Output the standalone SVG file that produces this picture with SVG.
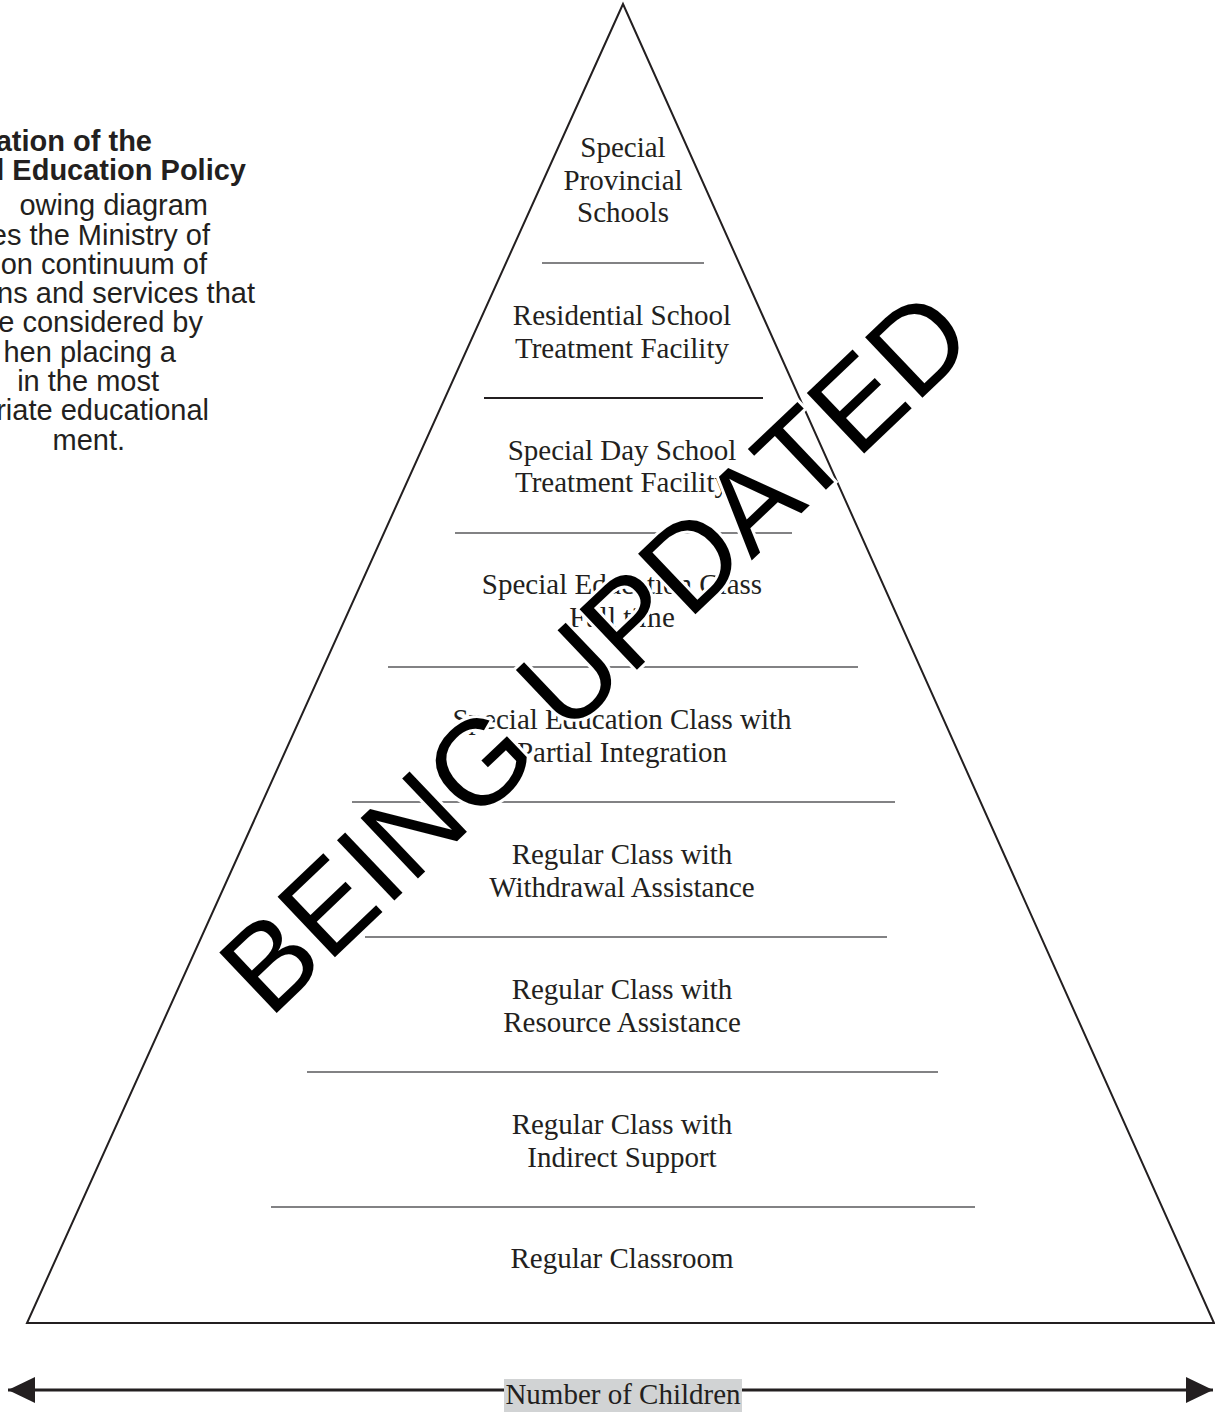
<svg xmlns="http://www.w3.org/2000/svg" width="1215" height="1412" viewBox="0 0 1215 1412">
<style>
.lbl{font-family:"Liberation Serif","Times New Roman",serif;font-size:29px;fill:#231f20;text-anchor:middle}
.side{font-family:"Liberation Sans",Arial,sans-serif;font-size:29px;fill:#231f20;text-anchor:end}
.side.b{font-weight:bold}
.sep{stroke:#58595b;stroke-width:1.5}
.sep.dark{stroke:#231f20;stroke-width:2.2}
.wm{font-family:"Liberation Sans",Arial,sans-serif;font-size:121px;fill:#000;stroke:#fff;stroke-width:6;paint-order:stroke;text-anchor:middle}
</style>
<defs>
<marker id="ah" markerUnits="userSpaceOnUse" markerWidth="28" markerHeight="28" refX="27" refY="13" orient="auto-start-reverse" viewBox="0 0 28 28">
<path d="M0,0 L27,13 L0,26 z" fill="#231f20"/>
</marker>
</defs>
<rect width="1215" height="1412" fill="#fff"/>

<g id="intro">
<text class="side b" x="152" y="151">ation of the</text>
<text class="side b" x="246" y="180">l Education Policy</text>
<text class="side" x="208" y="215">owing diagram</text>
<text class="side" x="210" y="245">es the Ministry of</text>
<text class="side" x="207" y="274">on continuum of</text>
<text class="side" x="255" y="303">ns and services that</text>
<text class="side" x="203" y="332">e considered by</text>
<text class="side" x="176" y="362">hen placing a</text>
<text class="side" x="159" y="391">in the most</text>
<text class="side" x="209" y="420">riate educational</text>
<text class="side" x="125" y="450">ment.</text>
</g>

<g id="pyramid">
<polygon points="623,4 27,1323 1214,1323" fill="none" stroke="#231f20" stroke-width="2"/>
</g>

<g id="separators">
<line class="sep" x1="542" y1="263" x2="704" y2="263"/>
<line class="sep dark" x1="484" y1="398" x2="763" y2="398"/>
<line class="sep" x1="455" y1="533" x2="792" y2="533"/>
<line class="sep" x1="388" y1="667" x2="858" y2="667"/>
<line class="sep" x1="352" y1="802" x2="895" y2="802"/>
<line class="sep" x1="365" y1="937" x2="887" y2="937"/>
<line class="sep" x1="307" y1="1072" x2="938" y2="1072"/>
<line class="sep" x1="271" y1="1207" x2="975" y2="1207"/>
</g>

<g id="level-provincial"><text class="lbl" x="623" y="157">Special</text><text class="lbl" x="623" y="189.5">Provincial</text><text class="lbl" x="623" y="222">Schools</text></g>
<g id="level-residential"><text class="lbl" x="622" y="325">Residential School</text><text class="lbl" x="622" y="358">Treatment Facility</text></g>
<g id="level-dayschool"><text class="lbl" x="622" y="460">Special Day School</text><text class="lbl" x="622" y="492">Treatment Facility</text></g>
<g id="level-fulltime"><text class="lbl" x="622" y="594">Special Education Class</text><text class="lbl" x="622" y="627">Full time</text></g>
<g id="level-partial"><text class="lbl" x="622" y="729">Special Education Class with</text><text class="lbl" x="622" y="762">Partial Integration</text></g>
<g id="level-withdrawal"><text class="lbl" x="622" y="864">Regular Class with</text><text class="lbl" x="622" y="897">Withdrawal Assistance</text></g>
<g id="level-resource"><text class="lbl" x="622" y="999">Regular Class with</text><text class="lbl" x="622" y="1032">Resource Assistance</text></g>
<g id="level-indirect"><text class="lbl" x="622" y="1134">Regular Class with</text><text class="lbl" x="622" y="1167">Indirect Support</text></g>
<g id="level-regular"><text class="lbl" x="622" y="1268">Regular Classroom</text></g>

<g id="connectors">
<line x1="8" y1="1390" x2="1213" y2="1390" stroke="#231f20" stroke-width="3" marker-start="url(#ah)" marker-end="url(#ah)"/>
</g>

<g id="axis-label">
<rect x="504" y="1379" width="238" height="33" fill="#d1d3d4"/>
<text class="lbl" x="623" y="1404">Number of Children</text>
</g>

<g id="watermark">
<text class="wm" transform="translate(624,682) rotate(-43.6)" x="0" y="0">BEING UPDATED</text>
</g>
</svg>
